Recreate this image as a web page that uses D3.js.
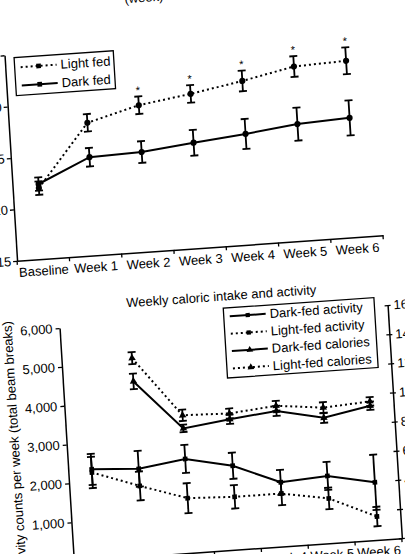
<!DOCTYPE html>
<html>
<head>
<meta charset="utf-8">
<script src="https://cdn.jsdelivr.net/npm/d3@7"></script>
<style>
html, body { margin: 0; padding: 0; background: #fff; overflow: hidden; }
svg { display: block; font-family: "Liberation Sans", Arial, Helvetica, sans-serif; }
</style>
</head>
<body>
<svg id="fig" width="405" height="554"></svg>
<script>
// categories
const weeks = ["Baseline", "Week 1", "Week 2", "Week 3", "Week 4", "Week 5", "Week 6"];

// top panel: body weight
const lightFed = [21.9, 27.9, 29.25, 30.0, 30.9, 31.95, 32.15];
const lightFedErr = [0.65, 0.85, 0.85, 0.85, 1.0, 1.0, 1.3];
const darkFed = [22.3, 24.55, 24.7, 25.25, 25.75, 26.35, 26.6];
const darkFedErr = [0.65, 0.9, 1.05, 1.25, 1.45, 1.6, 1.7];
const significant = [false, false, true, true, true, true, true];
const weightTicks = [15, 20, 25, 30, 35];

// bottom panel: activity (left axis) and calories (right axis)
const darkActivity = [2320, 2250, 2420, 2160, 1650, 1730, 1480];
const darkActivityErr = [400, 460, 360, 335, 320, 360, 710];
const lightActivity = [2240, 1810, 1410, 1360, 1360, 1150, 600];
const lightActivityErr = [400, 370, 385, 300, 300, 275, 250];
const darkCalories = [null, 12.0, 8.55, 8.95, 9.3, 8.6, 9.2];
const darkCaloriesErr = [null, 0.53, 0.25, 0.32, 0.34, 0.34, 0.28];
const lightCalories = [null, 13.6, 9.45, 9.35, 9.65, 9.3, 9.5];
const lightCaloriesErr = [null, 0.41, 0.39, 0.34, 0.34, 0.37, 0.3];
const activityTicks = [0, 1000, 2000, 3000, 4000, 5000, 6000];
const calorieTicks = [0, 2, 4, 6, 8, 10, 12, 14, 16];

const svg = d3.select("#fig");
svg.append("rect").attr("width", 405).attr("height", 554).attr("fill", "#fff");

// the scanned page is slightly tilted
const fig = svg.append("g")
    .attr("transform", "translate(202,277) matrix(0.9976,-0.0698,0.061,0.9981,0,0) translate(-202,-277)");

const font = 13;
const dotted = "2,3";

function styleAxis(g) {
    g.attr("font-size", font).attr("font-family", null);
    g.select(".domain").attr("stroke", "#000").attr("stroke-width", 1.5);
    g.selectAll(".tick line").attr("stroke", "#000").attr("stroke-width", 1.3);
    g.selectAll(".tick text").attr("fill", "#000");
}

function drawSeries(g, x, y, values, errs, dash, symbol, size) {
    const pts = values.map((v, i) => ({ w: weeks[i], v: v, e: errs[i] })).filter(d => d.v != null);
    const cx = d => x(d.w) + x.bandwidth() / 2;

    // error bars
    const eb = g.append("g").attr("stroke", "#000").attr("stroke-width", 1.8);
    pts.forEach(d => {
        eb.append("line").attr("x1", cx(d)).attr("x2", cx(d)).attr("y1", y(d.v - d.e)).attr("y2", y(d.v + d.e));
        [d.v - d.e, d.v + d.e].forEach(t => {
            eb.append("line").attr("x1", cx(d) - 4).attr("x2", cx(d) + 4).attr("y1", y(t)).attr("y2", y(t));
        });
    });

    g.append("path")
        .datum(pts)
        .attr("fill", "none")
        .attr("stroke", "#000")
        .attr("stroke-width", 2)
        .attr("stroke-dasharray", dash)
        .attr("d", d3.line().x(cx).y(d => y(d.v)));

    g.selectAll(null)
        .data(pts)
        .join("path")
            .attr("transform", d => `translate(${cx(d)},${y(d.v)})`)
            .attr("d", d3.symbol(symbol, size))
            .attr("fill", "#000");
}

function bandTicks(g, x, yPos, len) {
    const bounds = weeks.map(w => x(w)).concat(x.range()[1]);
    g.append("g").selectAll("line")
        .data(bounds)
        .join("line")
            .attr("x1", d => d).attr("x2", d => d)
            .attr("y1", yPos).attr("y2", yPos + len)
            .attr("stroke", "#000").attr("stroke-width", 1.3);
}

function legend(g, x0, y0, w, h, rowGap, items) {
    g.append("rect").attr("x", x0).attr("y", y0).attr("width", w).attr("height", h)
        .attr("fill", "#fff").attr("stroke", "#000").attr("stroke-width", 1.3);
    items.forEach((it, i) => {
        const ry = y0 + it.first + i * rowGap;
        g.append("line").attr("x1", x0 + 6).attr("x2", x0 + 42).attr("y1", ry).attr("y2", ry)
            .attr("stroke", "#000").attr("stroke-width", 2).attr("stroke-dasharray", it.dash);
        g.append("path").attr("transform", `translate(${x0 + 24},${ry})`)
            .attr("d", d3.symbol(it.symbol, it.size)).attr("fill", "#000");
        g.append("text").attr("x", x0 + 46).attr("y", ry + 4.5).attr("font-size", font)
            .attr("fill", "#000").text(it.label);
    });
}

// ---------- top panel ----------
const topPanel = fig.append("g");
const xTop = d3.scaleBand().domain(weeks).range([18.4, 385.2]);
const yTop = d3.scaleLinear().domain([15, 35]).range([248, 42]);

topPanel.append("text").attr("x", 161).attr("y", -1.5).attr("text-anchor", "middle")
    .attr("font-size", font).attr("fill", "#000").text("(week)");

topPanel.append("g").attr("transform", "translate(0,248)")
    .call(d3.axisBottom(xTop).tickSize(0).tickSizeOuter(0).tickPadding(7))
    .call(styleAxis);
bandTicks(topPanel, xTop, 248, 4);

topPanel.append("g").attr("transform", "translate(18.4,0)")
    .call(d3.axisLeft(yTop).tickValues(weightTicks).tickSize(4).tickSizeOuter(0).tickPadding(2))
    .call(styleAxis);

drawSeries(topPanel, xTop, yTop, darkFed, darkFedErr, null, d3.symbolCircle, 30);
drawSeries(topPanel, xTop, yTop, lightFed, lightFedErr, dotted, d3.symbolCircle, 30);

topPanel.selectAll(".star")
    .data(weeks.filter((w, i) => significant[i]))
    .join("text")
        .attr("class", "star")
        .attr("x", w => xTop(w) + xTop.bandwidth() / 2)
        .attr("y", w => { const i = weeks.indexOf(w); return yTop(lightFed[i] + lightFedErr[i]) - 2.5; })
        .attr("text-anchor", "middle")
        .attr("font-size", 11)
        .attr("fill", "#000")
        .text("*");

legend(topPanel, 27.8, 45.1, 99.4, 38, 18.4, [
    { label: "Light fed", dash: dotted, symbol: d3.symbolSquare, size: 22, first: 9.9 },
    { label: "Dark fed", dash: null, symbol: d3.symbolSquare, size: 22, first: 9.9 }
]);

// ---------- bottom panel ----------
const botPanel = fig.append("g");
const xBot = d3.scaleBand().domain(weeks).range([56.7, 385.5]);
const yAct = d3.scaleLinear().domain([0, 6000]).range([551.5, 318]);
const yCal = d3.scaleLinear().domain([0, 16]).range([551.5, 318]);

botPanel.append("text").attr("x", 220).attr("y", 302).attr("text-anchor", "middle")
    .attr("font-size", font).attr("fill", "#000").text("Weekly caloric intake and activity");

botPanel.append("g").attr("transform", "translate(0,551.5)")
    .call(d3.axisBottom(xBot).tickSize(0).tickSizeOuter(0).tickPadding(7))
    .call(styleAxis);
bandTicks(botPanel, xBot, 551.5, 4);

botPanel.append("g").attr("transform", "translate(56.7,0)")
    .call(d3.axisLeft(yAct).tickValues(activityTicks).tickFormat(d3.format(",")).tickSize(4).tickSizeOuter(0).tickPadding(3))
    .call(styleAxis);

const rightAxis = botPanel.append("g").attr("transform", "translate(385.5,0)")
    .call(d3.axisRight(yCal).tickValues(calorieTicks).tickSize(3).tickSizeOuter(0).tickPadding(3))
    .call(styleAxis);
rightAxis.selectAll(".tick line").attr("x1", -3);

botPanel.append("text")
    .attr("transform", "translate(9,435) rotate(-90)")
    .attr("text-anchor", "middle")
    .attr("font-size", font)
    .attr("fill", "#000")
    .text("Activity counts per week (total beam breaks)");

drawSeries(botPanel, xBot, yAct, darkActivity, darkActivityErr, null, d3.symbolSquare, 22);
drawSeries(botPanel, xBot, yAct, lightActivity, lightActivityErr, dotted, d3.symbolSquare, 22);
drawSeries(botPanel, xBot, yCal, darkCalories, darkCaloriesErr, null, d3.symbolTriangle, 24);
drawSeries(botPanel, xBot, yCal, lightCalories, lightCaloriesErr, dotted, d3.symbolTriangle, 24);

legend(botPanel, 221.3, 309.6, 151, 70, 17.4, [
    { label: "Dark-fed activity", dash: null, symbol: d3.symbolSquare, size: 18, first: 8.6 },
    { label: "Light-fed activity", dash: dotted, symbol: d3.symbolSquare, size: 18, first: 8.6 },
    { label: "Dark-fed calories", dash: null, symbol: d3.symbolTriangle, size: 20, first: 8.6 },
    { label: "Light-fed calories", dash: dotted, symbol: d3.symbolTriangle, size: 20, first: 8.6 }
]);
</script>
</body>
</html>
